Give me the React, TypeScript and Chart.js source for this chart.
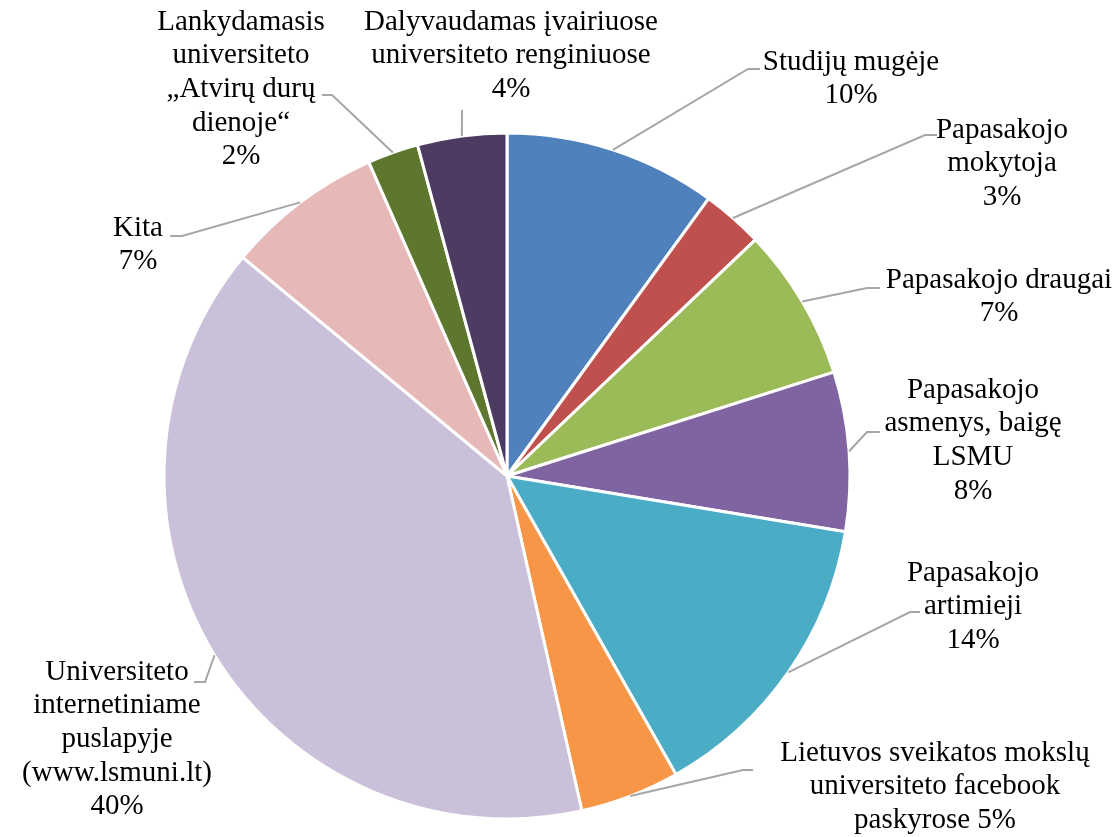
import React, { useEffect, useRef } from "react";
import { Chart, registerables } from "chart.js";

Chart.register(...registerables);

// ---- data ----
const categories: string[] = [
  "Studijų mugėje",
  "Papasakojo mokytoja",
  "Papasakojo draugai",
  "Papasakojo asmenys, baigę LSMU",
  "Papasakojo artimieji",
  "Lietuvos sveikatos mokslų universiteto facebook paskyrose",
  "Universiteto internetiniame puslapyje (www.lsmuni.lt)",
  "Kita",
  "Lankydamasis universiteto „Atvirų durų dienoje“",
  "Dalyvaudamas įvairiuose universiteto renginiuose",
];
const values: number[] = [10.0, 2.9, 7.2, 7.5, 14.2, 4.7, 39.5, 7.4, 2.4, 4.2];
const percentLabels: string[] = ["10%", "3%", "7%", "8%", "14%", "5%", "40%", "7%", "2%", "4%"];
// label text lines (the percentage placeholder {p} is replaced)
const labelLines: string[][] = [
  ["Studijų mugėje", "{p}"],
  ["Papasakojo", "mokytoja", "{p}"],
  ["Papasakojo draugai", "{p}"],
  ["Papasakojo", "asmenys, baigę", "LSMU", "{p}"],
  ["Papasakojo", "artimieji", "{p}"],
  ["Lietuvos sveikatos mokslų", "universiteto facebook", "paskyrose {p}"],
  ["Universiteto", "internetiniame", "puslapyje", "(www.lsmuni.lt)", "{p}"],
  ["Kita", "{p}"],
  ["Lankydamasis", "universiteto", "„Atvirų durų", "dienoje“", "{p}"],
  ["Dalyvaudamas įvairiuose", "universiteto renginiuose", "{p}"],
];
const colors: string[] = [
  "#4F81BD",
  "#C0504D",
  "#9BBB59",
  "#8064A2",
  "#4BACC6",
  "#F79646",
  "#CBC0DA",
  "#E6B9B8",
  "#5E772F",
  "#4E3B61",
];

// ---- label layout (offsets from the pie centre, px) ----
// [textCenterX, firstLineY, elbowX, elbowY, endX, endY]
const labelLayout: number[][] = [
  [344, -414, 241, -407, 253, -407],
  [495, -346, 418, -341, 430, -341],
  [492, -196, 360, -188, 373, -188],
  [466, -86, 360, -44, 373, -44],
  [466, 97, 403, 136, 413, 136],
  [428, 277, 236, 294, 246, 294],
  [-390, 196, -302, 206, -313, 206],
  [-369, -248, -325, -240, -337, -240],
  [-266, -454, -175, -381, -185, -381],
  [4, -454, -45, -366, -45, -366],
];

const FONT = '29px "Liberation Serif", "Times New Roman", serif';
const LINE_H = 33.7;

const outsideLabels = {
  id: "outsideLabels",
  afterDatasetsDraw(chart: any) {
    const meta = chart.getDatasetMeta(0);
    const ctx = chart.ctx as CanvasRenderingContext2D;
    ctx.save();
    meta.data.forEach((arc: any, i: number) => {
      const { x, y, startAngle, endAngle, outerRadius } = arc.getProps(
        ["x", "y", "startAngle", "endAngle", "outerRadius"],
        true
      );
      const mid = (startAngle + endAngle) / 2;
      const sx = x + outerRadius * Math.cos(mid);
      const sy = y + outerRadius * Math.sin(mid);
      const L = labelLayout[i];
      ctx.strokeStyle = "#A6A6A6";
      ctx.lineWidth = 2;
      ctx.beginPath();
      ctx.moveTo(sx, sy);
      ctx.lineTo(x + L[2], y + L[3]);
      ctx.lineTo(x + L[4], y + L[5]);
      ctx.stroke();

      ctx.fillStyle = "#000000";
      ctx.font = FONT;
      ctx.textAlign = "center";
      ctx.textBaseline = "middle";
      labelLines[i].forEach((ln, k) => {
        const t = ln.replace("{p}", percentLabels[i]);
        ctx.fillText(t, x + L[0], y + L[1] + k * LINE_H);
      });
    });
    ctx.restore();
  },
};

export default function App() {
  const ref = useRef<HTMLCanvasElement | null>(null);
  useEffect(() => {
    document.body.style.margin = "0";
    const canvas = ref.current!;
    const chart = new Chart(canvas, {
      type: "pie",
      data: {
        labels: categories,
        datasets: [
          {
            data: values,
            backgroundColor: colors,
            borderColor: "#FFFFFF",
            borderWidth: 3,
          },
        ],
      },
      options: {
        responsive: false,
        animation: false,
        radius: 343,
        layout: { padding: { left: 0, right: 105, top: 115, bottom: 0 } },
        plugins: {
          legend: { display: false },
          tooltip: { enabled: false },
        },
      } as any,
      plugins: [outsideLabels],
    });
    return () => chart.destroy();
  }, []);
  return (
    <div style={{ position: "fixed", left: 0, top: 0, width: 1119, height: 837, background: "#fff" }}>
      <canvas ref={ref} width={1119} height={837} style={{ display: "block" }} />
    </div>
  );
}
